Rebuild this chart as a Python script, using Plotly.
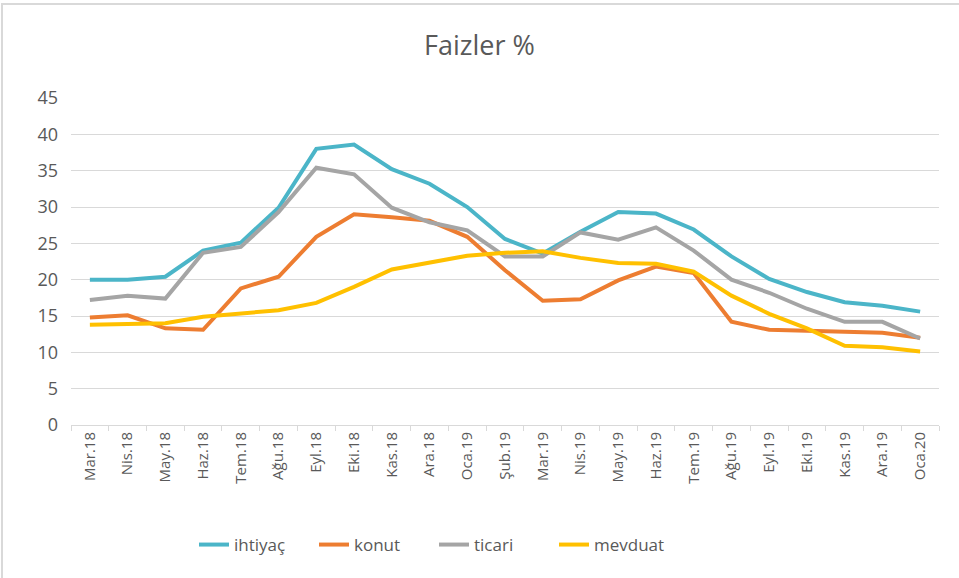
import plotly.graph_objects as go

months = ["Mar.18", "Nis.18", "May.18", "Haz.18", "Tem.18", "Ağu.18", "Eyl.18", "Eki.18",
          "Kas.18", "Ara.18", "Oca.19", "Şub.19", "Mar.19", "Nis.19", "May.19", "Haz.19",
          "Tem.19", "Ağu.19", "Eyl.19", "Eki.19", "Kas.19", "Ara.19", "Oca.20"]

ihtiyac = [20.0, 20.0, 20.4, 24.0, 25.1, 29.9, 38.0, 38.6, 35.2, 33.2, 30.0, 25.6, 23.6,
           26.6, 29.3, 29.1, 26.9, 23.2, 20.1, 18.3, 16.9, 16.4, 15.6]
konut = [14.8, 15.1, 13.3, 13.1, 18.8, 20.4, 25.9, 29.0, 28.6, 28.1, 25.9, 21.3, 17.1,
         17.3, 19.9, 21.8, 20.9, 14.2, 13.1, 13.0, 12.9, 12.7, 12.0]
ticari = [17.2, 17.8, 17.4, 23.7, 24.5, 29.3, 35.4, 34.5, 29.9, 27.9, 26.8, 23.2, 23.2,
          26.5, 25.5, 27.2, 24.0, 20.0, 18.2, 16.0, 14.2, 14.2, 11.9]
mevduat = [13.8, 13.9, 14.0, 14.9, 15.3, 15.8, 16.8, 19.0, 21.4, 22.3, 23.3, 23.7, 23.9,
           23.0, 22.3, 22.2, 21.1, 17.8, 15.3, 13.3, 10.9, 10.7, 10.1]

series = [("ihtiyaç", ihtiyac, "#4BB5C8"),
          ("konut", konut, "#ED7D31"),
          ("ticari", ticari, "#A5A5A5"),
          ("mevduat", mevduat, "#FFC000")]

FONT = "Open Sans, Liberation Sans, sans-serif"

fig = go.Figure()
for name, vals, color in series:
    fig.add_trace(go.Scatter(x=months, y=vals, name=name, mode="lines",
                             line=dict(color=color, width=4)))

fig.update_layout(
    width=959, height=578,
    margin=dict(l=71, r=20, t=98, b=153),
    paper_bgcolor="white", plot_bgcolor="white",
    font=dict(family=FONT, color="#595959"),
    title=dict(text="Faizler %", x=0.5, xanchor="center", y=0.922, yanchor="middle",
               font=dict(size=27, color="#595959", family=FONT)),
    showlegend=True,
    legend=dict(orientation="h", x=0.1417, xanchor="left", y=-0.367, yanchor="middle",
                font=dict(size=17, color="#595959", family=FONT),
                entrywidth=75, entrywidthmode="pixels"),
    xaxis=dict(type="category", tickangle=-90, tickfont=dict(size=15, color="#595959"),
               showgrid=False, showline=True, linecolor="#d9d9d9", linewidth=1,
               ticks="outside", ticklen=5, tickcolor="#d9d9d9", tickson="boundaries",
               range=[-0.5, len(months) - 0.5]),
    yaxis=dict(range=[0, 45], dtick=5, tickfont=dict(size=18, color="#595959"),
               showgrid=True, gridcolor="#d9d9d9", gridwidth=1, zeroline=False,
               showline=False, ticks="", ticklabelstandoff=12),
    shapes=[dict(type="rect", xref="paper", yref="paper",
                 x0=-0.0795, x1=1.05, y0=-0.6, y1=1.2875,
                 line=dict(color="#d9d9d9", width=2), fillcolor="rgba(0,0,0,0)", layer="below")],
)

fig.write_html("out.html", config={"displayModeBar": False},
               post_script="document.body.style.margin='0';")
